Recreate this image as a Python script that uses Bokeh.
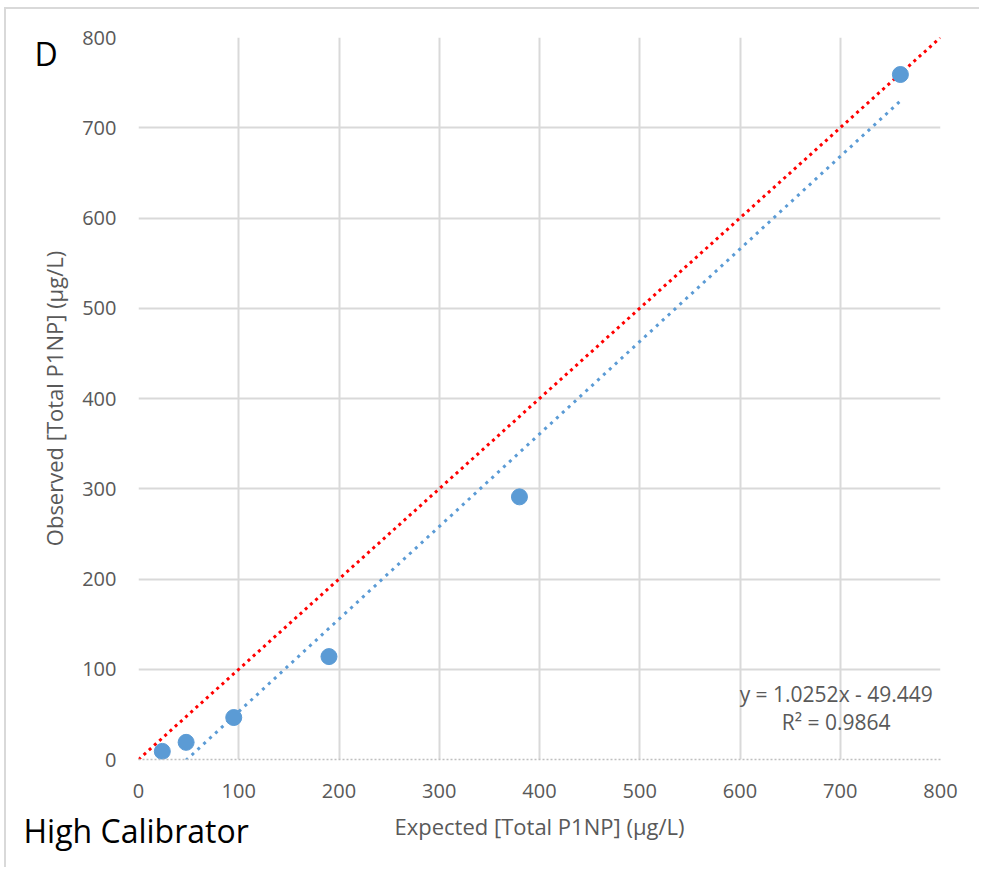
from bokeh.plotting import figure
from bokeh.models import Range1d, FixedTicker, Label, Title
from bokeh.embed import file_html
from bokeh.resources import INLINE

expected = [23.75, 47.5, 95, 190, 380, 760]
observed = [9, 19, 46.5, 114, 291, 759]
slope = 1.0252
intercept = -49.449
r2 = 0.9864
ticks = [0, 100, 200, 300, 400, 500, 600, 700, 800]
x_title = "Expected [Total P1NP] (μg/L)"
y_title = "Observed [Total P1NP] (μg/L)"

FONT = "Open Sans"
GRAY = "#595959"
GRID = "#d9d9d9"
BLUE = "#5b9bd5"

p = figure(width=975, height=860, output_backend="svg", toolbar_location=None,
           x_range=Range1d(0, 800), y_range=Range1d(0, 800),
           min_border_left=132, min_border_right=41, min_border_top=28, min_border_bottom=110)
p.styles = {"margin-left": "4px", "margin-top": "7px",
            "border-left": "2px solid #d9d9d9", "border-top": "2px solid #d9d9d9"}
p.outline_line_color = None
p.background_fill_color = "white"

for ax in (p.xaxis[0], p.yaxis[0]):
    ax.ticker = FixedTicker(ticks=ticks)
    ax.major_tick_line_color = None
    ax.minor_tick_line_color = None
    ax.major_label_text_font = FONT
    ax.major_label_text_font_size = "20px"
    ax.major_label_text_color = GRAY
    ax.axis_label_text_font = FONT
    ax.axis_label_text_font_size = "22px"
    ax.axis_label_text_color = GRAY
    ax.axis_label_text_font_style = "normal"

p.xaxis.major_label_standoff = 18
p.yaxis.major_label_standoff = 16
p.yaxis.axis_label_standoff = 10
p.yaxis.axis_label = y_title

p.xaxis.axis_line_color = "#bfbfbf"
p.xaxis.axis_line_dash = "2 2"
p.xaxis.axis_line_width = 1.5
p.yaxis.axis_line_color = None

p.xgrid.ticker = FixedTicker(ticks=ticks)
p.ygrid.ticker = FixedTicker(ticks=ticks[1:])
p.xgrid.grid_line_color = GRID
p.ygrid.grid_line_color = GRID
p.xgrid.grid_line_width = 2
p.ygrid.grid_line_width = 2

# identity line
p.line([0, 800], [0, 800], line_color="red", line_width=3, line_dash="3 4")

# trendline
xs = [min(expected), max(expected)]
ys = [slope * v + intercept for v in xs]
p.line(xs, ys, line_color=BLUE, line_width=3, line_dash="3 5")

p.scatter(expected, observed, size=16, fill_color=BLUE, line_color=BLUE)

p.add_layout(Label(x=696, y=73, text=f"y = {slope}x - {-intercept}", text_align="center",
                   text_baseline="middle", text_font=FONT, text_font_size="21px", text_color=GRAY))
p.add_layout(Label(x=696, y=41, text=f"R² = {r2}", text_align="center",
                   text_baseline="middle", text_font=FONT, text_font_size="21px", text_color=GRAY))

# x-axis title as a label in the bottom panel
p.add_layout(Label(x=401, y=5, x_units="screen", y_units="screen", text=x_title,
                   text_align="center", text_baseline="middle", text_font=FONT,
                   text_font_size="22px", text_color=GRAY), "below")

p.add_layout(Label(x=21, y=706, x_units="screen", y_units="screen", text="D",
                   text_baseline="middle", text_font=FONT, text_font_size="32px", text_color="black"), "left")
p.add_layout(Title(text="High Calibrator", align="left", vertical_align="top", offset=-115, standoff=-44,
                   text_font=FONT, text_font_size="32px", text_font_style="normal", text_color="black"), "below")

open("out.html", "w").write(file_html(p, INLINE))
